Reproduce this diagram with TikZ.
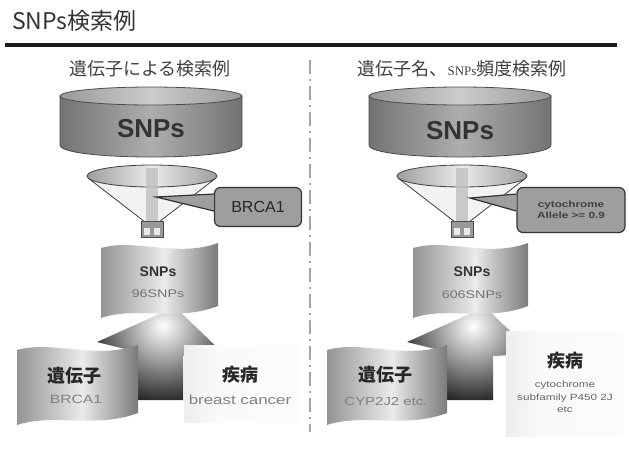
\documentclass[tikz,border=0pt]{standalone}
\usepackage{fontspec}
\setmainfont{Liberation Sans}
\newfontfamily\jpfont{Noto Sans CJK JP}
\newfontfamily\romfont{Liberation Serif}
\newfontfamily\widefont{Liberation Sans}[FakeStretch=1.3]

% left-to-right gradients for the banners and the drums
\pgfdeclarehorizontalshading{bannershade}{100bp}{color(0bp)=(black!42); color(25bp)=(black!42); color(52bp)=(black!8); color(75bp)=(black!52); color(100bp)=(black!52)}
\pgfdeclarehorizontalshading{drumshade}{100bp}{color(0bp)=(black!55); color(25bp)=(black!55); color(50bp)=(black!32); color(75bp)=(black!55); color(100bp)=(black!55)}
\pgfdeclarehorizontalshading{lidshade}{100bp}{color(0bp)=(black!40); color(25bp)=(black!40); color(50bp)=(black!20); color(75bp)=(black!40); color(100bp)=(black!40)}
\pgfdeclarehorizontalshading{rimshade}{100bp}{color(0bp)=(black!38); color(25bp)=(black!38); color(50bp)=(black!8); color(75bp)=(black!38); color(100bp)=(black!38)}
\pgfdeclarehorizontalshading{sickshade}{100bp}{color(0bp)=(black!7); color(25bp)=(black!7); color(40bp)=(black!2); color(100bp)=(black!1)}

% wavy banner: [style]{x}{y}{width}{height}, y counted downwards
\newcommand{\wavebox}[5][]{%
  \path[#1] (#2,#3) .. controls (#2+0.3*#4,#3-10) and (#2+0.65*#4,#3+10) .. (#2+#4,#3-5)
    -- (#2+#4,#3+#5-12) .. controls (#2+0.65*#4,#3+#5+4) and (#2+0.3*#4,#3+#5-12) .. (#2,#3+#5) -- cycle;}

\tikzset{
  every node/.style={inner sep=0pt, text=black!85},
  dbbody/.style={draw=black!70, line width=0.8pt, shading=drumshade},
  dbtop/.style={draw=black!70, line width=0.8pt, shading=lidshade},
  funnelrim/.style={draw=black!75, line width=0.8pt, shading=rimshade},
  callout/.style={draw=black!80, line width=1.2pt, fill=black!38, rounded corners=6pt},
  flagbox/.style={shading=bannershade},
  sickbox/.style={shading=sickshade},
  dbtext/.style={font=\bfseries\fontsize{26}{28}\selectfont, text=black!80},
  snptext/.style={font=\bfseries\fontsize{14}{16}\selectfont, text=black!80},
  counttext/.style={font=\widefont\fontsize{11}{13}\selectfont, text=black!55},
  jptext/.style={font=\jpfont\bfseries\fontsize{18}{20}\selectfont, text=black!85},
  subtext/.style={font=\widefont\fontsize{12}{14}\selectfont, text=black!50},
  tinytext/.style={font=\widefont\bfseries\fontsize{9}{11}\selectfont, text=black!75, align=center},
}

\begin{document}
\begin{tikzpicture}[x=1pt, y=-1pt]
\useasboundingbox (0,0) rectangle (629,450);

% Heading and rule
\node[anchor=west, font=\jpfont\fontsize{23}{25}\selectfont, text=black!80] (title) at (12,21) {SNPs検索例};
\draw[line width=4pt, black!90] (5,45) -- (617,45);

% Panel headings
\node[font=\jpfont\fontsize{18}{20}\selectfont, text=black!75] (headL) at (150,69) {遺伝子による検索例};
\node[font=\jpfont\fontsize{18}{20}\selectfont, text=black!75] (headR) at (462,69) {遺伝子名、{\romfont\fontsize{13}{14}\selectfont SNPs}頻度検索例};

% Divider between the two panels
\draw[gray!70, line width=1.8pt, dash pattern=on 14pt off 5pt on 2pt off 5pt] (310,60) -- (310,432);

% Database cylinders
\foreach \cx in {151,460} {
  \path[dbbody] (\cx-91,96) -- (\cx-91,145) .. controls (\cx-91,161) and (\cx+91,161) .. (\cx+91,145) -- (\cx+91,96) -- cycle;
  \path[dbtop] (\cx,96) ellipse [x radius=91, y radius=9];
}
\node[dbtext] (dbL) at (151,129) {SNPs};
\node[dbtext] (dbR) at (460,131) {SNPs};

% Funnels
\foreach \cx in {152,462} {
  \fill[black!5] (\cx-64,178) -- (\cx-7,222) -- (\cx+7,222) -- (\cx+64,178) -- cycle;
  \draw[black!75, line width=0.8pt] (\cx-64,178) -- (\cx-7,222);
  \draw[black!75, line width=0.8pt] (\cx+64,178) -- (\cx+7,222);
  \path[funnelrim] (\cx,176) ellipse [x radius=65, y radius=11];
  \fill[black!25, opacity=0.8] (\cx-6,168) rectangle (\cx+6,222);
  \draw[black!70, fill=black!40, line width=0.8pt] (\cx-11,221) rectangle (\cx+11,237);
  \fill[black!8] (\cx-8,228) rectangle (\cx-2,235);
  \fill[black!8] (\cx+2,228) rectangle (\cx+8,235);
}

% Query callouts
\node[callout, minimum width=87pt, minimum height=39pt, font=\fontsize{16}{18}\selectfont] (qL) at (258,207) {BRCA1};
\coordinate (tipL) at (156,197);
\fill[black!38] (tipL) -- (qL.west |- 0,194) -- (qL.west |- 0,211) -- cycle;
\draw[black!80, line width=1.2pt] (qL.west |- 0,194) -- (tipL) -- (qL.west |- 0,211);

\node[callout, minimum width=108pt, minimum height=45pt, tinytext] (qR) at (571,210) {cytochrome\\Allele >= 0.9};
\coordinate (tipR) at (470,198);
\fill[black!38] (tipR) -- (qR.west |- 0,194) -- (qR.west |- 0,211) -- cycle;
\draw[black!80, line width=1.2pt] (qR.west |- 0,194) -- (tipR) -- (qR.west |- 0,211);

% Upward arrows linking gene and disease to the SNP sets
\foreach \ox in {0,310} {
  \begin{scope}
    \clip (\ox+97,342) -- (\ox+175,307) -- (\ox+224,354) -- (\ox+183,356) -- (\ox+183,400) -- (\ox+137,400) -- (\ox+137,352) -- cycle;
    \shade[inner color=white, outer color=black] (\ox+163,326) circle (90);
  \end{scope}
}

% SNP result banners
\wavebox[flagbox]{101}{248}{117}{70}
\wavebox[flagbox]{413}{248}{115}{70}
\node[snptext] (snpL) at (158,272) {SNPs};
\node[counttext] (cntL) at (158,294) {96SNPs};
\node[snptext] (snpR) at (472,272) {SNPs};
\node[counttext] (cntR) at (472,295) {606SNPs};

% Gene banners
\wavebox[flagbox]{17}{350}{121}{75}
\wavebox[flagbox]{327}{350}{120}{75}
\node[jptext] (geneL) at (74,376) {遺伝子};
\node[subtext] (geneLsub) at (76,399) {BRCA1};
\node[jptext] (geneR) at (385,375) {遺伝子};
\node[subtext, font=\widefont\fontsize{11.5}{13}\selectfont] (geneRsub) at (386,402) {CYP2J2 etc.};

% Disease boxes
\fill[sickbox] (184,345) rectangle (300,422);
\fill[sickbox] (506,331) rectangle (623,436);
\node[jptext] (sickL) at (240,375) {疾病};
\node[subtext, font=\widefont\fontsize{13}{15}\selectfont] (sickLsub) at (240,400) {breast cancer};
\node[jptext] (sickR) at (565,361) {疾病};
\node[tinytext, font=\widefont\fontsize{9}{12.5}\selectfont, text=black!60] (sickRsub) at (565,397) {cytochrome\\subfamily P450 2J\\etc};

\end{tikzpicture}
\end{document}
